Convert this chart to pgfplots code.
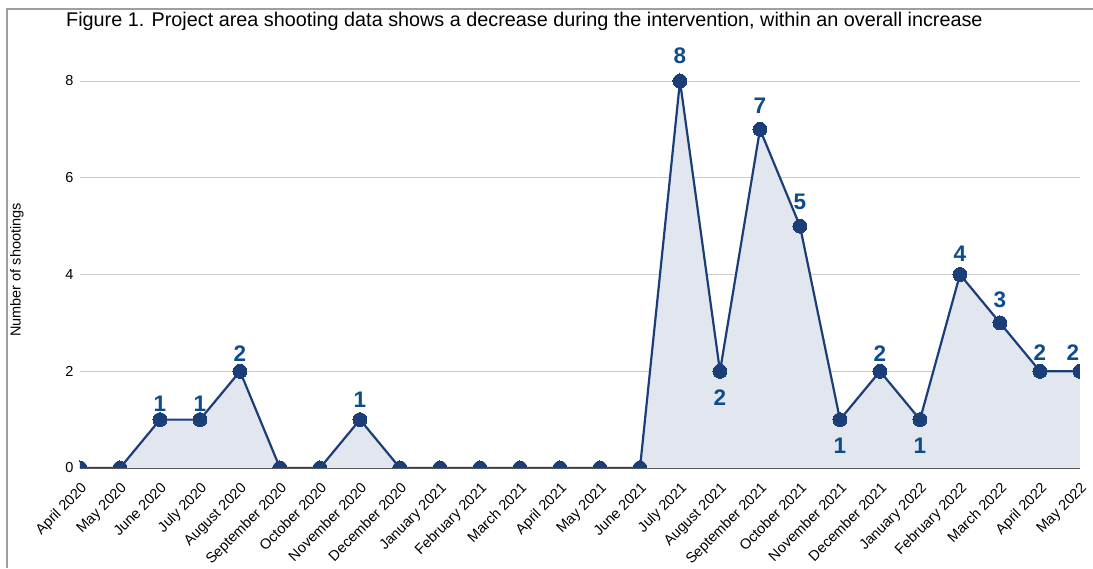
\documentclass[border=0pt]{standalone}
\usepackage{pgfplots}
\pgfplotsset{compat=1.18}
\usepackage{pgfplotstable}
\usepackage{fontspec}
\setmainfont{Liberation Sans}
\definecolor{lineblue}{HTML}{1B3E78}
\definecolor{fillblue}{HTML}{E2E6EF}
\definecolor{labblue}{HTML}{0D4C8C}
\pgfplotstableread{
x y
0 0
1 0
2 1
3 1
4 2
5 0
6 0
7 1
8 0
9 0
10 0
11 0
12 0
13 0
14 0
15 8
16 2
17 7
18 5
19 1
20 2
21 1
22 4
23 3
24 2
25 2
}\shootings
\pgfplotstableread{
x y dy dx
2 1 8 0
3 1 8 0
4 2 10 0
7 1 12 0
15 8 17 0
17 7 16 0
18 5 17 0
20 2 10 0
22 4 13 0
23 3 15 0
24 2 11 0
25 2 11 -7
}\above
\pgfplotstableread{
x y
16 2
19 1
21 1
}\below
\begin{document}
\begin{tikzpicture}[x=1pt,y=1pt]
\useasboundingbox (0,0) rectangle (1093,568);
\clip (0,0) rectangle (1093,568);
\draw[gray!75, line width=1.2pt] (7,0) -- (7,559) -- (1093,559);
\node[anchor=base west, inner sep=0pt, font=\fontsize{19.8}{22}\selectfont] at (66,541) {Figure 1. Project area shooting data shows a decrease during the intervention, within an overall increase};
\node[rotate=90, font=\fontsize{14.5}{16}\selectfont] at (17,298) {Number of shootings};
\begin{axis}[
  at={(80pt,100pt)}, anchor=south west,
  scale only axis, width=1000pt, height=411.2pt,
  xmin=0, xmax=25, ymin=0, ymax=8.5,
  axis x line=bottom, axis y line=left,
  y axis line style={draw=none},
  x axis line style={draw=gray!70!black, line width=1.3pt, -},
  major tick length=0pt,
  ytick={0,2,4,6,8},
  ymajorgrids, grid style={gray!40, line width=0.9pt},
  yticklabel style={font=\fontsize{14.5}{16}\selectfont, xshift=-3pt},
  xtick={0,...,25},
  xticklabels={April 2020,May 2020,June 2020,July 2020,August 2020,September 2020,October 2020,November 2020,December 2020,January 2021,February 2021,March 2021,April 2021,May 2021,June 2021,July 2021,August 2021,September 2021,October 2021,November 2021,December 2021,January 2022,February 2022,March 2022,April 2022,May 2022},
  xticklabel style={font=\fontsize{14.5}{16}\selectfont, xshift=0pt, yshift=-12pt, rotate=45, anchor=north east, inner sep=1pt},
  clip mode=individual,
  /pgf/number format/assume math mode=true,
]
\addplot[fill=fillblue, draw=none] table[x=x,y=y] {\shootings} \closedcycle;
\addplot[lineblue, line width=2.2pt, mark=*, mark size=7pt, mark options={fill=lineblue, draw=lineblue, line width=0pt}, clip marker paths=true] table[x=x,y=y] {\shootings};
\addplot[draw=none, mark=none, nodes near coords, point meta=y,
  visualization depends on={\thisrow{dy}\as\dy},
  visualization depends on={\thisrow{dx}\as\dx},
  nodes near coords style={font=\bfseries\fontsize{22.5}{24}\selectfont, text=labblue, anchor=base, yshift=\dy pt, xshift=\dx pt},
  /pgf/number format/assume math mode=true, /pgf/number format/precision=0] table[x=x,y=y] {\above};
\addplot[draw=none, mark=none, nodes near coords, point meta=y,
  nodes near coords style={font=\bfseries\fontsize{22.5}{24}\selectfont, text=labblue, anchor=base, yshift=-34pt},
  /pgf/number format/assume math mode=true, /pgf/number format/precision=0] table[x=x,y=y] {\below};
\end{axis}
\end{tikzpicture}
\end{document}
